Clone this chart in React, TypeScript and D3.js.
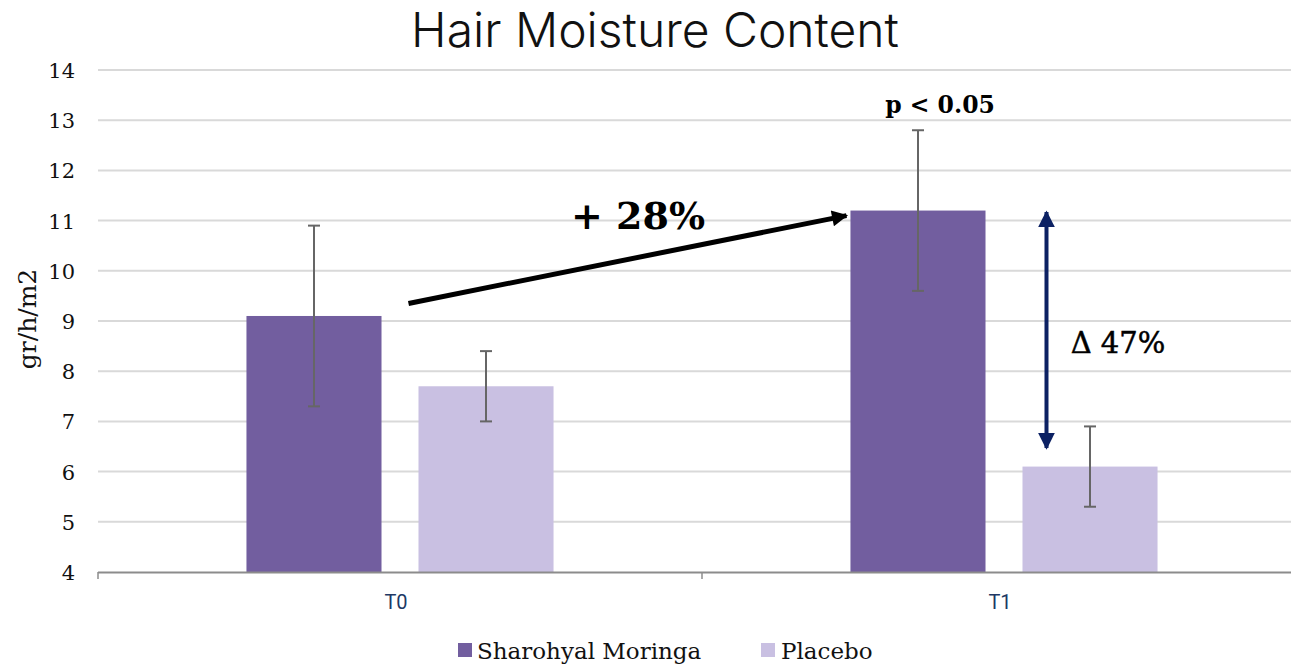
import React from "react";
import * as d3 from "d3";

const categories = ["T0", "T1"];
const seriesNames = ["Sharohyal Moringa", "Placebo"];
const moringaValues = [9.1, 11.2];
const moringaErrLow = [7.3, 9.6];
const moringaErrHigh = [10.9, 12.8];
const placeboValues = [7.7, 6.1];
const placeboErrLow = [7.0, 5.3];
const placeboErrHigh = [8.4, 6.9];
const yTicks = [4, 5, 6, 7, 8, 9, 10, 11, 12, 13, 14];
const colors = ["#725e9f", "#c9c0e2"];

const W = 1291;
const H = 665;

export default function App() {
  const x = d3.scaleBand<string>().domain(categories).range([98, 1306]).paddingInner(0).paddingOuter(0);
  const inner = d3.scaleBand<string>().domain(seriesNames).range([0, x.bandwidth()]).paddingInner(0.215).paddingOuter(0.863);
  const y = d3.scaleLinear().domain([4, 14]).range([572, 70]);

  const series = [
    { name: seriesNames[0], values: moringaValues, lo: moringaErrLow, hi: moringaErrHigh, color: colors[0] },
    { name: seriesNames[1], values: placeboValues, lo: placeboErrLow, hi: placeboErrHigh, color: colors[1] },
  ];

  const serif = "'DejaVu Serif', serif";
  const bw = inner.bandwidth();

  const arrowStart: [number, number] = [x("T0")! + inner(seriesNames[1])! - 10, y(9.35)];
  const arrowEnd: [number, number] = [x("T1")! + inner(seriesNames[0])! - 4, y(11.1)];
  const dblX = x("T1")! + inner(seriesNames[1])! + 24;

  return (
    <svg width={W} height={H} style={{ position: "absolute", left: 0, top: 0, background: "#fff" }}>
      <defs>
        <marker id="ah" viewBox="0 0 10 10" refX="9" refY="5" markerWidth="4" markerHeight="3.2" orient="auto" markerUnits="strokeWidth">
          <path d="M0,0 L10,5 L0,10 z" fill="#000" />
        </marker>
        <marker id="nv" viewBox="0 0 10 10" refX="9" refY="5" markerWidth="4.2" markerHeight="4.2" orient="auto-start-reverse" markerUnits="strokeWidth">
          <path d="M0,0 L10,5 L0,10 z" fill="#0c2163" />
        </marker>
      </defs>

      <text x={655} y={47} textAnchor="middle" fontFamily="Inter, 'Open Sans', sans-serif" fontWeight={300} fontSize={48} fill="#111">
        Hair Moisture Content
      </text>

      {yTicks.slice(1).map((t) => (
        <line key={t} x1={98} x2={W} y1={y(t)} y2={y(t)} stroke="#d9d9d9" strokeWidth={2} />
      ))}
      {yTicks.map((t) => (
        <text key={t} x={75} y={y(t) + 8} textAnchor="end" fontFamily={serif} fontSize={21} fill="#111">
          {t}
        </text>
      ))}

      <text transform={`translate(36,${319}) rotate(-90)`} textAnchor="middle" fontFamily={serif} fontSize={25} fill="#111">
        gr/h/m2
      </text>

      {series.map((s) =>
        categories.map((c, i) => {
          const bx = x(c)! + inner(s.name)!;
          return (
            <rect key={s.name + c} x={bx} y={y(s.values[i])} width={bw} height={y(4) - y(s.values[i])} fill={s.color} />
          );
        })
      )}

      <line x1={98} x2={1306} y1={572.5} y2={572.5} stroke="#8c8c8c" strokeWidth={2} />
      {[98, 1306].concat([x("T1")!]).map((px, i) => (
        <line key={i} x1={px} x2={px} y1={572} y2={579} stroke="#8c8c8c" strokeWidth={1.5} />
      ))}

      {series.map((s) =>
        categories.map((c, i) => {
          const cx = x(c)! + inner(s.name)! + bw / 2;
          return (
            <g key={"e" + s.name + c} stroke="#666" strokeWidth={2}>
              <line x1={cx} x2={cx} y1={y(s.hi[i])} y2={y(s.lo[i])} />
              <line x1={cx - 6} x2={cx + 6} y1={y(s.hi[i])} y2={y(s.hi[i])} />
              <line x1={cx - 6} x2={cx + 6} y1={y(s.lo[i])} y2={y(s.lo[i])} />
            </g>
          );
        })
      )}

      {categories.map((c) => (
        <text key={c} x={x(c)! + x.bandwidth() / 2 - 4} y={609} textAnchor="middle" fontFamily="'Liberation Sans Narrow', Roboto, sans-serif" fontSize={20} fill="#203864">
          {c}
        </text>
      ))}

      <line x1={arrowStart[0]} y1={arrowStart[1]} x2={arrowEnd[0]} y2={arrowEnd[1]} stroke="#000" strokeWidth={5} markerEnd="url(#ah)" />
      <text x={638} y={229} textAnchor="middle" fontFamily={serif} fontWeight="bold" fontSize={38} fill="#000">
        + 28%
      </text>
      <text x={940} y={113} textAnchor="middle" fontFamily={serif} fontWeight="bold" fontSize={23.5} fill="#000">
        p &lt; 0.05
      </text>
      <line x1={dblX} x2={dblX} y1={y(11.17)} y2={y(6.47)} stroke="#0c2163" strokeWidth={4} markerStart="url(#nv)" markerEnd="url(#nv)" />
      <text x={1118} y={353} textAnchor="middle" fontFamily={serif} fontSize={29} fill="#000" stroke="#000" strokeWidth={0.5}>
        Δ 47%
      </text>

      <g>
        <rect x={458} y={643} width={14} height={14} fill={colors[0]} />
        <text x={477} y={659} fontFamily={serif} fontSize={23} fill="#111">
          {seriesNames[0]}
        </text>
        <rect x={761} y={643} width={14} height={14} fill={colors[1]} />
        <text x={781} y={659} fontFamily={serif} fontSize={23} fill="#111">
          {seriesNames[1]}
        </text>
      </g>
    </svg>
  );
}
